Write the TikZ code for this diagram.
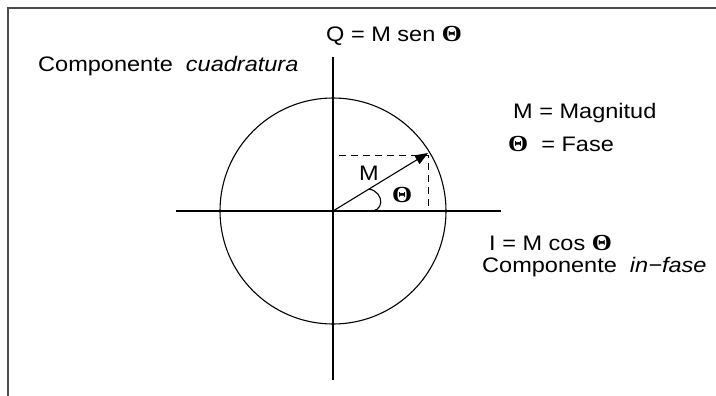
\documentclass[tikz,border=0pt]{standalone}
\usepackage{fontspec}
\setmainfont{Liberation Sans}
\newfontfamily\thfont{Liberation Serif}
\newcommand{\Th}{{\thfont\bfseries\fontsize{23}{24}\selectfont Θ}}
\usetikzlibrary{arrows.meta}
\begin{document}
\begin{tikzpicture}[x=1pt,y=-1pt,
  lbl/.style={anchor=base west,inner sep=0pt,font=\fontsize{21}{24}\selectfont,xscale=1.12},
  axis/.style={line width=1.2pt,black},
  frame/.style={line width=1.5pt,black!70},
  guide/.style={line width=1pt,dash pattern=on 7pt off 5pt}]
\useasboundingbox (0,0) rectangle (716,396);
\draw[frame] (716,8) -- (8,8) -- (8,396);
\coordinate (O) at (333,211);
\coordinate (yt) at (333,57);
\coordinate (yb) at (333,380);
\coordinate (xl) at (176,211);
\coordinate (xr) at (501,211);
\coordinate (tip) at (428,153);
\coordinate (dh) at (339,156);
\coordinate (dc) at (428,156);
\coordinate (dv) at (428,206);
\draw[axis] (yt) -- (yb);
\draw[axis] (xl) -- (xr);
\draw[line width=1.1pt] (O) circle[radius=113];
\draw[guide] (dh) -- (dc) -- (dv);
\draw[line width=1.1pt,-{Triangle[length=13pt,width=10pt]}] (O) -- (tip);
\coordinate (a1) at (369,189);
\coordinate (a2) at (367,211);
\draw[line width=1.1pt] (a1) .. controls (385,192) and (385,214) .. (a2);
\node[lbl] (q) at (326,42) {Q = M sen \Th};
\node[lbl] (cq) at (38,72) {Componente \ \textit{cuadratura}};
\node[lbl] (mm) at (513,118) {M = Magnitud};
\node[lbl] (tf) at (508,152) {\Th\ \ = Fase};
\node[lbl] (ic) at (489,250) {I = M cos \Th};
\node[lbl] (ci) at (482,272) {Componente \ \textit{in−fase}};
\node[lbl] (ml) at (359,180) {M};
\node[lbl] (tl) at (392,202) {\Th};
\end{tikzpicture}
\end{document}
